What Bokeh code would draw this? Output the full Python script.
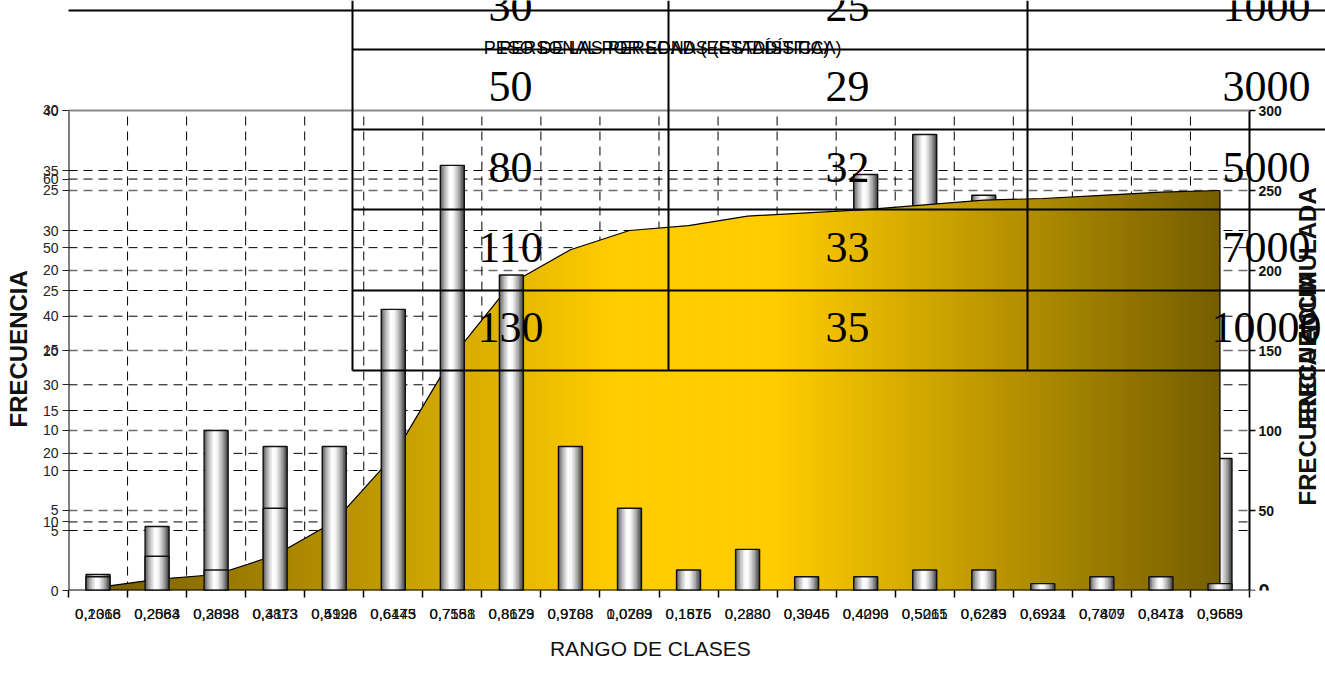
import numpy as np
from bokeh.plotting import figure
from bokeh.models import Range1d, FixedTicker, ColumnDataSource
from bokeh.core.properties import value
from bokeh.embed import file_html
from bokeh.resources import INLINE

# ---------------- data ----------------
CLASES = list(range(20))
FRECUENCIA = [2, 5, 3, 12, 21, 41, 62, 46, 21, 12, 3, 6, 2, 2, 3, 3, 1, 2, 2, 1]          # left scale 0-70
ACUMULADA = [2, 7, 10, 22, 43, 84, 146, 192, 213, 225, 228, 234, 236, 238, 241, 244, 245, 247, 249, 250]  # right axis
FRECUENCIA_2 = [1, 4, 10, 9, 0, 0, 0, 0, 0, 0, 0, 0, 0, 26, 28.5, 24.7, 0, 24.6, 0, 8.25]  # left scale 0-30
X_LABELS_1 = ["0,1068", "0,2083", "0,3098", "0,4113", "0,5128", "0,6143", "0,7158", "0,8173", "0,9188", "1,0203",
              "0,1875", "0,2830", "0,3945", "0,4090", "0,5015", "0,6283", "0,6924", "0,7879", "0,8473", "0,9583"]
X_LABELS_2 = ["0,2316", "0,2564", "0,2838", "0,3873", "0,4996", "0,6475", "0,7581", "0,8629", "0,9703", "0,0789",
              "0,1516", "0,2280", "0,3046", "0,4293", "0,5261", "0,6249", "0,6931", "0,7407", "0,8414", "0,9659"]
LEFT_TICKS_A = [0, 5, 10, 15, 20, 25, 30, 35, 40]      # scale 0-40
LEFT_TICKS_B = [5, 10, 15, 20, 25, 30]                 # scale 0-30
LEFT_TICKS_C = [10, 20, 30, 40, 50, 60]                # scale 0-70
RIGHT_TICKS = [0, 50, 100, 150, 200, 250, 300]
TABLA_COL1 = [30, 50, 80, 110, 130]
TABLA_COL2 = [25, 29, 32, 33, 35]
TABLA_COL3 = [1000, 3000, 5000, 7000, 10000]
TITULOS = ["PESO DE LAS PERSONAS (ESTADÍSTICA)", "PERSONAL POR EDAD (ESTADÍSTICA)"]
X_TITLE = "RANGO DE CLASES"
Y_TITLE = "FRECUENCIA"
Y2_TITLES = ["FRECUENCIA ACUMULADA", "FRECUENCIA"]

# ---------------- geometry ----------------
W, H = 1325, 684
FL, FB = 68, 590            # frame left / bottom in px
PR, PT = 1249, 110          # plot-area right / top in px
PXX = (PR - FL) / 20.0
PXY = (FB - PT) / 300.0
X_END = (W - FL) / PXX
Y_END = FB / PXY
B_MAX, C_MAX, A_MAX = 30.0, 70.0, 40.0

def dx(px):
    return (px - FL) / PXX

def dy(py):
    return (FB - py) / PXY

SANS = "Liberation Sans"
SERIF = "Liberation Serif"

p = figure(width=W, height=H, x_range=Range1d(0, X_END), y_range=Range1d(0, Y_END),
           output_backend="svg", toolbar_location=None, min_border=0,
           min_border_left=FL, min_border_bottom=H - FB, min_border_top=0, min_border_right=0)
p.extra_y_ranges = {"B": Range1d(0, Y_END * B_MAX / 300.0), "C": Range1d(0, Y_END * C_MAX / 300.0)}
p.outline_line_color = None
p.xgrid.visible = False
p.ygrid.visible = False
p.background_fill_color = "white"
p.border_fill_color = "white"

centers = np.array(CLASES, dtype=float) + 0.5

# ---------------- axes ----------------
xt, xo = [], {}
for i, c in enumerate(centers):
    xt += [float(c), float(c) + 1e-4]
    xo[float(c)] = X_LABELS_1[i]
    xo[float(c) + 1e-4] = X_LABELS_2[i]
xa = p.xaxis[0]
xa.ticker = FixedTicker(ticks=xt, minor_ticks=[float(v) for v in range(21)])
xa.major_label_overrides = xo
xa.major_tick_out = 0
xa.major_tick_in = 0
xa.minor_tick_out = 7
xa.minor_tick_in = 0
xa.minor_tick_line_color = "black"
xa.minor_tick_line_width = 1.5
xa.axis_line_color = None
xa.major_label_text_font = SANS
xa.major_label_text_font_size = "15px"
xa.major_label_text_color = "#111111"
xa.major_label_standoff = 11
xa.axis_label = X_TITLE + "\u00a0" * 16
xa.axis_label_text_font = SANS
xa.axis_label_text_font_style = "normal"
xa.axis_label_text_font_size = "21px"
xa.axis_label_text_color = "#111111"
xa.axis_label_standoff = 15

yt, yo = [], {}
for a in LEFT_TICKS_A:
    t = a * 300.0 / A_MAX
    yt.append(t); yo[t] = str(a)
for b in LEFT_TICKS_B:
    t = b * 300.0 / B_MAX + 0.01
    yt.append(t); yo[t] = str(b)
for c in LEFT_TICKS_C:
    t = c * 300.0 / C_MAX + 0.02
    yt.append(t); yo[t] = str(c)
ya = p.yaxis[0]
ya.ticker = FixedTicker(ticks=yt, minor_ticks=[])
ya.major_label_overrides = yo
ya.major_tick_out = 6
ya.major_tick_in = 0
ya.major_tick_line_color = "#222222"
ya.axis_line_color = None
ya.major_label_text_font = SANS
ya.major_label_text_font_size = "14px"
ya.major_label_text_color = "#222222"
ya.major_label_standoff = 4
ya.axis_label = Y_TITLE + "\u00a0" * 16
ya.axis_label_text_font = SANS
ya.axis_label_text_font_style = "bold"
ya.axis_label_text_font_size = "24px"
ya.axis_label_text_color = "#111111"
ya.axis_label_standoff = 8

# ---------------- grid (dashed) ----------------
ga = [a * 300.0 / A_MAX for a in LEFT_TICKS_A if a > 0 and a < A_MAX] + [c * 300.0 / C_MAX for c in LEFT_TICKS_C]
gb = [b * 300.0 / B_MAX for b in LEFT_TICKS_B if b < B_MAX]
p.segment(x0=[0] * len(ga), x1=[20] * len(ga), y0=ga, y1=ga, line_color="black", line_width=1, line_dash="9 6")
p.segment(x0=[0] * len(gb), x1=[20] * len(gb), y0=gb, y1=gb, line_color="#6e6e6e", line_width=1.5, line_dash="9 6")
vx = [float(v) for v in range(1, 20)]
p.segment(x0=vx, x1=vx, y0=[0] * len(vx), y1=[300] * len(vx), line_color="black", line_width=1, line_dash="9 6")

# ---------------- cylinder bars ----------------
PROFILE_T = [0.0, 0.18, 0.40, 0.55, 0.78, 1.0]
PROFILE_V = [0x58, 0xb4, 0xff, 0xf6, 0xa6, 0x36]
NSTRIP = 16
CYL = []
for k in range(NSTRIP):
    g = int(round(np.interp((k + 0.5) / NSTRIP, PROFILE_T, PROFILE_V)))
    CYL.append("#%02x%02x%02x" % (g, g, g))
BW = 24.0 / PXX

def cylinders(vals, rng):
    vals = np.array(vals, dtype=float)
    m = vals > 0
    cx, vv = centers[m], vals[m]
    n = len(CYL)
    L, R, T, Cc = [], [], [], []
    for k, col in enumerate(CYL):
        l = cx - BW / 2 + k * BW / n
        r = np.minimum(l + BW / n * 1.6, cx + BW / 2)
        L += list(l); R += list(r); T += list(vv); Cc += [col] * len(vv)
    src = ColumnDataSource(dict(left=L, right=R, top=T, bottom=[0] * len(T), color=Cc))
    p.quad(left="left", right="right", top="top", bottom="bottom", fill_color="color",
           line_color=None, source=src, y_range_name=rng)
    p.quad(left=cx - BW / 2, right=cx + BW / 2, top=vv, bottom=0, fill_color=None,
           line_color="#111111", line_width=1.4, y_range_name=rng)

cylinders(FRECUENCIA_2, "B")

# ---------------- gradient area (cumulative) ----------------
def grad(t):
    stops = [0.0, 0.46, 0.60, 1.0]
    cols = [np.array([110, 87, 0]), np.array([255, 204, 0]), np.array([255, 204, 0]), np.array([108, 86, 0])]
    for j in range(len(stops) - 1):
        if stops[j] <= t <= stops[j + 1]:
            f = (t - stops[j]) / (stops[j + 1] - stops[j])
            c = cols[j] * (1 - f) + cols[j + 1] * f
            return "#%02x%02x%02x" % tuple(int(round(v)) for v in c)
    return "#6c5600"

NS = 300
edges = np.linspace(centers[0], centers[-1], NS + 1)
xs, ys, fc = [], [], []
for j in range(NS):
    x0, x1 = edges[j], edges[j + 1]
    x1e = min(x1 + (x1 - x0) * 0.6, centers[-1])
    y0 = np.interp(x0, centers, ACUMULADA)
    y1 = np.interp(x1e, centers, ACUMULADA)
    xs.append([x0, x1e, x1e, x0]); ys.append([0, 0, y1, y0])
    fc.append(grad(((x0 + x1) / 2) / 20.0))
p.patches(xs=xs, ys=ys, fill_color=fc, line_color=None)
p.line(centers, ACUMULADA, line_color="black", line_width=1.2)
p.segment(x0=[centers[-1], centers[0]], x1=[centers[-1], centers[0]], y0=[ACUMULADA[-1], ACUMULADA[0]],
          y1=[0, 0], line_color="black", line_width=1.2)

cylinders(FRECUENCIA, "C")

# ---------------- axis lines / border ----------------
p.segment(x0=[0, 0, 20], x1=[20, 0, 20], y0=[0, 0, 0], y1=[0, 300, 300], line_color="black", line_width=2)
p.segment(x0=[0], x1=[20], y0=[300], y1=[300], line_color="#8a8a8a", line_width=2)

# right axis ticks / labels
rt = [float(v) for v in RIGHT_TICKS]
p.segment(x0=[20] * len(rt), x1=[20 + 6 / PXX] * len(rt), y0=rt, y1=rt, line_color="black", line_width=1.5)
rsrc = ColumnDataSource(dict(x=[20.0] * len(rt), y=rt, text=[str(v) for v in RIGHT_TICKS],
                             size=["20px" if v == 0 else "14px" for v in RIGHT_TICKS]))
p.text(x="x", y="y", text="text", source=rsrc, x_offset=9, text_align="left", text_baseline="middle",
       text_font=value(SANS), text_font_style="bold", text_font_size="size", text_color="#111111")

# right axis titles (overlapping)
p.text(x=[dx(1307), dx(1307)], y=[dy(345), dy(350)], text=Y2_TITLES, angle=np.pi / 2,
       text_align="center", text_baseline="middle", text_font=value(SANS), text_font_style="bold",
       text_font_size="24px", text_color="#111111")

# ---------------- overlaid table ----------------
hl_y = [10, 49, 129, 209, 290, 370]
hl_x0 = [0, 352, 352, 352, 352, 352]
p.segment(x0=[dx(v) for v in hl_x0], x1=[X_END] * len(hl_y), y0=[dy(v) for v in hl_y], y1=[dy(v) for v in hl_y],
          line_color="black", line_width=2)
vl_x = [352, 668, 1027]
p.segment(x0=[dx(v) for v in vl_x], x1=[dx(v) for v in vl_x], y0=[Y_END] * 3, y1=[dy(370)] * 3,
          line_color="black", line_width=2)
row_y = [dy(v) for v in [6, 86, 167, 247, 327]]
for col_px, vals in [(510, TABLA_COL1), (847, TABLA_COL2), (1266, TABLA_COL3)]:
    p.text(x=[dx(col_px)] * len(vals), y=row_y, text=[str(v) for v in vals], text_align="center",
           text_baseline="middle", text_font=value(SERIF), text_font_size="44px", text_color="black")

# ---------------- overlapped chart titles ----------------
p.text(x=[dx(662), dx(664)], y=[dy(47)] * len(TITULOS), text=TITULOS, text_align="center",
       text_baseline="alphabetic", text_font=value(SANS), text_font_size="18px", text_color="black")

open("out.html", "w").write(file_html(p, INLINE))
